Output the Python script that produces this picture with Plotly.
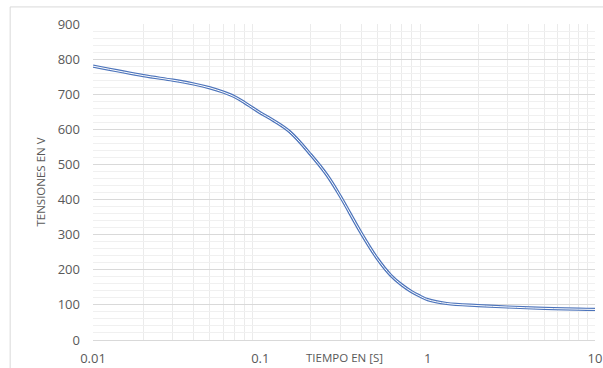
import plotly.graph_objects as go

# Data
tiempo = [0.01, 0.02, 0.03, 0.04, 0.05, 0.06, 0.07, 0.08, 0.09, 0.1, 0.12, 0.15,
          0.2, 0.25, 0.3, 0.4, 0.5, 0.6, 0.7, 0.8, 0.9, 1, 1.3, 2, 3, 5, 10]
tension = [780, 753, 740, 729, 718, 706, 693, 677, 661, 647, 625, 593,
           528, 470, 410, 305, 232, 185, 157, 138, 125, 115, 104, 98, 94, 90, 87]

x_tickvals = [0.01, 0.1, 1, 10]
x_ticktext = ["0.01", "0.1", "1", "10"]
x_minor = [m * d for d in (0.01, 0.1, 1) for m in range(2, 10)]

BLUE = "#4d74bb"
TEXT = "#595959"
FONT = "Open Sans"

fig = go.Figure()
fig.add_trace(go.Scatter(x=tiempo, y=tension, mode="lines",
                         line=dict(color=BLUE, width=3.2, shape="spline", smoothing=1.0),
                         hoverinfo="skip", showlegend=False))
fig.add_trace(go.Scatter(x=tiempo, y=tension, mode="lines",
                         line=dict(color="white", width=1.0, shape="spline", smoothing=1.0),
                         hoverinfo="skip", showlegend=False))

fig.update_layout(
    width=603, height=368,
    margin=dict(l=93, r=8, t=24, b=28, autoexpand=False),
    paper_bgcolor="white", plot_bgcolor="white",
    font=dict(family=FONT, size=13, color=TEXT),
    showlegend=False,
)

fig.update_xaxes(
    type="log", range=[-2, 1], automargin=False,
    tickmode="array", tickvals=x_tickvals, ticktext=x_ticktext,
    showgrid=False, zeroline=False,
    showline=True, linecolor="#d9d9d9", linewidth=1,
    ticks="", ticklen=0, ticklabelstandoff=6,
    tickfont=dict(family=FONT, size=13, color=TEXT),
    minor=dict(tickmode="array", tickvals=x_minor, showgrid=True,
               gridcolor="#ebebeb", gridwidth=1, ticks=""),
)

fig.update_yaxes(
    range=[0, 900], dtick=100, tick0=0, automargin=False,
    showgrid=True, gridcolor="#d9d9d9", gridwidth=1,
    zeroline=False, showline=False, ticks="",
    ticklabelstandoff=12,
    tickfont=dict(family=FONT, size=13, color=TEXT),
    minor=dict(dtick=20, showgrid=True, gridcolor="#f0f0f0", gridwidth=1, ticks=""),
    title=dict(text="TENSIONES EN V", font=dict(family=FONT, size=11.5, color=TEXT), standoff=9),
)

fig.add_annotation(text="TIEMPO EN [S]", xref="paper", yref="paper",
                   x=0.5, y=-0.054, xanchor="center", yanchor="middle",
                   showarrow=False, font=dict(family=FONT, size=11.5, color=TEXT))

# outer chart border
fig.add_shape(type="rect", xref="paper", yref="paper",
              x0=-0.165, x1=1.06, y0=-0.2, y1=1.054,
              line=dict(color="#d9d9d9", width=1), fillcolor="rgba(0,0,0,0)", layer="below")

fig.write_html("out.html")
